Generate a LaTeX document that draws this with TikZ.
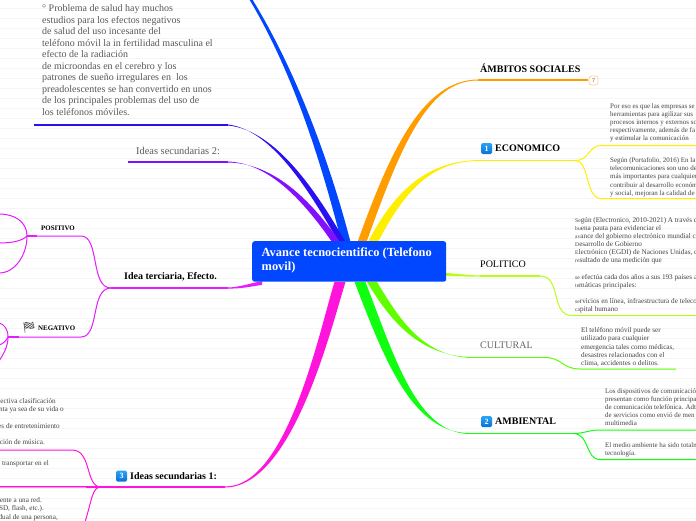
\documentclass[tikz,border=0pt]{standalone}
\usepackage{fontspec}
\setmainfont{Liberation Serif}
\newfontfamily\emojifont{Noto Emoji}
\usetikzlibrary{calc}
\definecolor{cblue}{HTML}{0047FF}
\definecolor{cnavy}{HTML}{2A10F0}
\definecolor{cpurple}{HTML}{8210FF}
\definecolor{cmagA}{HTML}{E41CFF}
\definecolor{cmagB}{HTML}{FF14DC}
\definecolor{corange}{HTML}{FF9C00}
\definecolor{cyellow}{HTML}{FFEE00}
\definecolor{clime}{HTML}{B6FF14}
\definecolor{cgreenA}{HTML}{60FF00}
\definecolor{cgreenB}{HTML}{10FF10}
\definecolor{ctext}{HTML}{444444}
\definecolor{btop}{HTML}{2AA5F5}
\definecolor{bbot}{HTML}{0A6FD6}
\tikzset{
  para/.style={inner sep=0pt,anchor=north west,align=left,text=ctext,font=\fontsize{7.2}{8.15}\selectfont},
  parb/.style={para,font=\fontsize{6.95}{8.15}\selectfont},
  clipL/.style={inner sep=0pt,anchor=east,text=ctext,font=\fontsize{7.2}{8.15}\selectfont},
  biglabel/.style={inner sep=0pt,anchor=west,font=\bfseries\fontsize{10}{12}\selectfont,text=black},
  plainlabel/.style={inner sep=0pt,anchor=west,font=\fontsize{10}{12}\selectfont,text=ctext},
  tiny label/.style={inner sep=0pt,anchor=west,font=\bfseries\fontsize{6.9}{8}\selectfont,text=black},
  badge/.style={inner sep=0pt,minimum width=11pt,minimum height=11pt,rounded corners=1.5pt,
     top color=btop,bottom color=bbot,text=white,font=\bfseries\fontsize{8}{8}\selectfont},
  thin branch/.style={line width=1pt}
}
\newcommand{\taper}[7]{% colour, root half offset, root, c1, c2, end, end half offset
  \fill[#1] ($(#3)+(#2)$) .. controls ($(#4)+(#2)$) and ($(#5)+0.45*(#2)$) .. ($(#6)+(#7)$)
     -- ($(#6)-(#7)$) .. controls ($(#5)-0.45*(#2)$) and ($(#4)-(#2)$) .. ($(#3)-(#2)$) -- cycle;}
\newcommand{\hrun}[3]{\fill[#1] ($(#2)+(0,.55)$) rectangle ($(#3)-(0,.55)$);}
\newcommand{\pf}[1]{{\fontsize{5.6}{5}\selectfont #1}}
\begin{document}
\begin{tikzpicture}[x=1pt,y=-1pt]
\useasboundingbox (0,0) rectangle (696,520);
\clip (0,0) rectangle (696,520);
\fill[white] (0,0) rectangle (696,520);
\foreach \k in {0,...,51} \draw[black!4,line width=.6pt] (0,8.5+10*\k) -- (696,8.5+10*\k);

% named points
\coordinate (blueA) at (346,242);   \coordinate (blueE) at (250,-2);
\coordinate (navyA) at (342,242);   \coordinate (navyE) at (228,125);   \coordinate (navyF) at (34,125);
\coordinate (purA) at (336,242);    \coordinate (purE) at (228,162);    \coordinate (purF) at (128,162);
\coordinate (terA) at (262,283);    \coordinate (terE) at (228,288);    \coordinate (terF) at (111,288);
\coordinate (secA) at (340,282);    \coordinate (secE) at (225,487);    \coordinate (secF) at (101,487);
\coordinate (oraA) at (362,242);    \coordinate (oraE) at (478,80);     \coordinate (oraF) at (588,80);
\coordinate (yelA) at (373,242);    \coordinate (yelE) at (480,160.5);  \coordinate (yelF) at (575,160.5);
\coordinate (limA) at (440,274);    \coordinate (limE) at (480,276);    \coordinate (limF) at (540,276);
\coordinate (culA) at (372,282);    \coordinate (culE) at (470,357.5);  \coordinate (culF) at (545,357.5);
\coordinate (ambA) at (360,282);    \coordinate (ambE) at (470,433.5);  \coordinate (ambF) at (573,433.5);
\coordinate (posJ) at (81,236);     \coordinate (posK) at (27,236);
\coordinate (negJ) at (81,337);     \coordinate (negK) at (8,337);
\coordinate (s1J) at (72,450);      \coordinate (s1K) at (-1,450);      \coordinate (s2K) at (-1,487);

% horizontal runs of the branches
\hrun{cnavy}{navyE}{navyF}
\hrun{cpurple}{purE}{purF}
\hrun{cmagA}{terE}{terF}
\hrun{cmagB}{secE}{secF}
\hrun{corange}{oraE}{oraF}
\hrun{cyellow}{yelE}{yelF}
\hrun{clime}{limE}{limF}
\hrun{cgreenA}{culE}{culF}
\hrun{cgreenB}{ambE}{ambF}

% main tapered branches
\taper{cblue}{4.5,0}{blueA}{330,180}{300,80}{blueE}{1.5,0}
\taper{cnavy}{3.5,0}{navyA}{315,195}{275,130}{navyE}{0,.5}
\taper{cpurple}{4,0}{purA}{300,190}{265,163}{purE}{0,.5}
\taper{cmagA}{0,1.8}{terA}{250,285}{240,288}{terE}{0,.5}
\taper{cmagB}{5.5,0}{secA}{325,330}{290,487}{secE}{0,.5}
\taper{corange}{4.5,0}{oraA}{395,150}{425,80}{oraE}{0,.5}
\taper{cyellow}{5,0}{yelA}{400,190}{430,160.5}{yelE}{0,.5}
\taper{clime}{0,1.5}{limA}{455,275}{470,276}{limE}{0,.5}
\taper{cgreenA}{5,0}{culA}{395,320}{420,355}{culE}{0,.5}
\taper{cgreenB}{5.5,0}{ambA}{390,360}{415,433.5}{ambE}{0,.5}

% right side sub branches
\draw[draw=cyellow,thin branch] (yelF) .. controls (590,160.5) and (588,145.5) .. (601,145.5) -- (697,145.5);
\draw[draw=cyellow,thin branch] (yelF) .. controls (590,160.5) and (585,198.5) .. (601,198.5) -- (697,198.5);
\draw[draw=clime,thin branch] (limF) .. controls (562,276) and (550,315.5) .. (572,315.5) -- (697,315.5);
\draw[draw=cgreenA,thin branch] (culF) .. controls (562,357.5) and (562,369) .. (580,369) -- (676,369);
\draw[draw=cgreenB,thin branch] (ambF) .. controls (585,433.5) and (588,430) .. (600,430) -- (697,430);
\draw[draw=cgreenB,thin branch] (ambF) .. controls (590,433.5) and (585,459.5) .. (600,459.5) -- (697,459.5);

% left side sub branches
\draw[draw=cmagA,thin branch] (terF) .. controls (90,288) and (100,236) .. (posJ) -- (posK);
\draw[draw=cmagA,line width=1.6pt] (posK) -- (37,236);
\draw[draw=cmagA,thin branch] (terF) .. controls (90,288) and (100,337) .. (negJ) -- (negK);
\draw[draw=cmagA,line width=1.6pt] (negK) -- (19,337);
\draw[draw=cmagA,thin branch] (posK) .. controls (27,222) and (15,214) .. (-1,214);
\draw[draw=cmagA,thin branch] (posK) .. controls (22,241) and (12,243) .. (-1,243);
\draw[draw=cmagA,thin branch] (posK) .. controls (27,255) and (15,273) .. (-1,273);
\draw[draw=cmagA,thin branch] (negK) .. controls (8,329) and (4,324) .. (-1,323);
\draw[draw=cmagA,thin branch] (negK) .. controls (6,341) and (3,344) .. (-1,345);
\draw[draw=cmagA,thin branch] (negK) .. controls (8,347) and (3,355) .. (-1,361);
\draw[draw=cmagB,thin branch] (secF) .. controls (85,487) and (92,450) .. (s1J) -- (s1K);
\hrun{cmagB}{secF}{s2K}
\draw[draw=cmagB!50,line width=1pt] (86,487.8) -- (-1,487.8);
\draw[draw=cmagB,thin branch] (secF) .. controls (92,487) and (92,500) .. (85,522);

% central topic
\node[fill=cblue,rounded corners=2.5pt,inner sep=0pt,minimum width=194pt,minimum height=40.5pt,anchor=north west] (root) at (252,241) {};
\node[inner sep=0pt,anchor=north west,align=left,text=white,font=\bfseries\fontsize{12.4}{14}\selectfont] (rootT) at (261.5,247.5) {Avance tecnocientifico (Telefono\\movil)};

% top-level labels
\node[biglabel] (lAmb) at (480,68) {ÁMBITOS SOCIALES};
\node[draw=corange!45,fill=white,line width=.8pt,rounded corners=2.5pt,minimum width=9pt,minimum height=9pt,inner sep=0pt,text=black!50,font=\bfseries\fontsize{6}{6}\selectfont] (b7) at (593.5,80.5) {7};
\node[badge] (b1) at (486.5,148.5) {1};
\node[biglabel] (lEco) at (495,148.5) {ECONOMICO};
\node[plainlabel,text=black] (lPol) at (480,264.5) {POLITICO};
\node[plainlabel,text=black!60] (lCul) at (480,345.5) {CULTURAL};
\node[badge] (b2) at (486.5,421.5) {2};
\node[biglabel] (lAmbi) at (495,421.5) {AMBIENTAL};
\node[badge] (b3) at (121.5,476) {3};
\node[biglabel] (lSec) at (130,476) {Ideas secundarias 1:};
\node[biglabel] (lTer) at (124,276.5) {Idea terciaria, Efecto.};
\node[plainlabel,font=\fontsize{10.4}{12}\selectfont,text=black!65] (lSec2) at (136,150.5) {Ideas secundarias 2:};
\node[tiny label] (lPos) at (41,228) {POSITIVO};
\node[tiny label] (lNeg) at (38,328) {NEGATIVO};
\node[inner sep=0pt,font=\emojifont\fontsize{11}{11}\selectfont,text=black!70] (flag) at (29,328) {🏁};

% paragraphs
\node[para,font=\fontsize{10}{11.5}\selectfont,text=black!65] (pTop) at (42,4.5) {° Problema de salud hay muchos\\estudios para los efectos negativos\\de salud del uso incesante del\\teléfono móvil la in fertilidad masculina el\\efecto de la radiación\\de microondas en el cerebro y los\\patrones de sueño irregulares en~ los\\preadolescentes se han convertido en unos\\de los principales problemas del uso de\\los teléfonos móviles.};
\node[parb] (pE1) at (610,103) {Por eso es que las empresas se\\herramientas para agilizar sus\\procesos internos y externos so\\respectivamente, además de fa\\y estimular la comunicación};
\node[parb] (pE2) at (610,157.5) {Según (Portafolio, 2016) En la\\telecomunicaciones son uno de\\más importantes para cualquier\\contribuir al desarrollo económ\\y social, mejoran la calidad de};
\node[para] (pP1) at (575,217) {\pf{Se}gún (Electronico, 2010-2021) A través d\\\pf{bu}ena pauta para evidenciar el\\\pf{av}ance del gobierno electrónico mundial ca\\\pf{D}esarrollo de Gobierno\\\pf{E}lectrónico (EGDI) de Naciones Unidas, cu\\\pf{re}sultado de una medición que};
\node[para] (pP2) at (575,274.5) {\pf{se} efectúa cada dos años a sus 193 países a\\\pf{te}máticas principales:};
\node[para] (pP3) at (575,298.5) {\pf{se}rvicios en línea, infraestructura de telecom\\\pf{ca}pital humano};
\node[para] (pC) at (581,327.5) {El teléfono móvil puede ser\\utilizado para cualquier\\emergencia tales como médicas,\\desastres relacionados con el\\clima, accidentes o delitos.};
\node[parb] (pA1) at (605,388) {Los dispositivos de comunicación\\presentan como función principa\\de comunicación telefónica. Adt\\de servicios como envió de men\\multimedia};
\node[parb] (pA2) at (605,442) {El medio ambiente ha sido totalm\\tecnología.};
\node[clipL] (c1) at (56,401.7) {pectiva clasificación};
\node[clipL] (c2) at (64,410) {nta ya sea de su vida o};
\node[clipL] (c3) at (60,426) {es de entretenimiento};
\node[clipL] (c4) at (45,442) {ción de música.};
\node[clipL] (c5) at (49,464) {n transportar en el};
\node[clipL] (c6) at (42,500) {tente a una red.};
\node[clipL] (c7) at (44,509) {SD, flash, etc.).};
\node[clipL] (c8) at (58,518) {dual de una persona,};
\end{tikzpicture}
\end{document}
